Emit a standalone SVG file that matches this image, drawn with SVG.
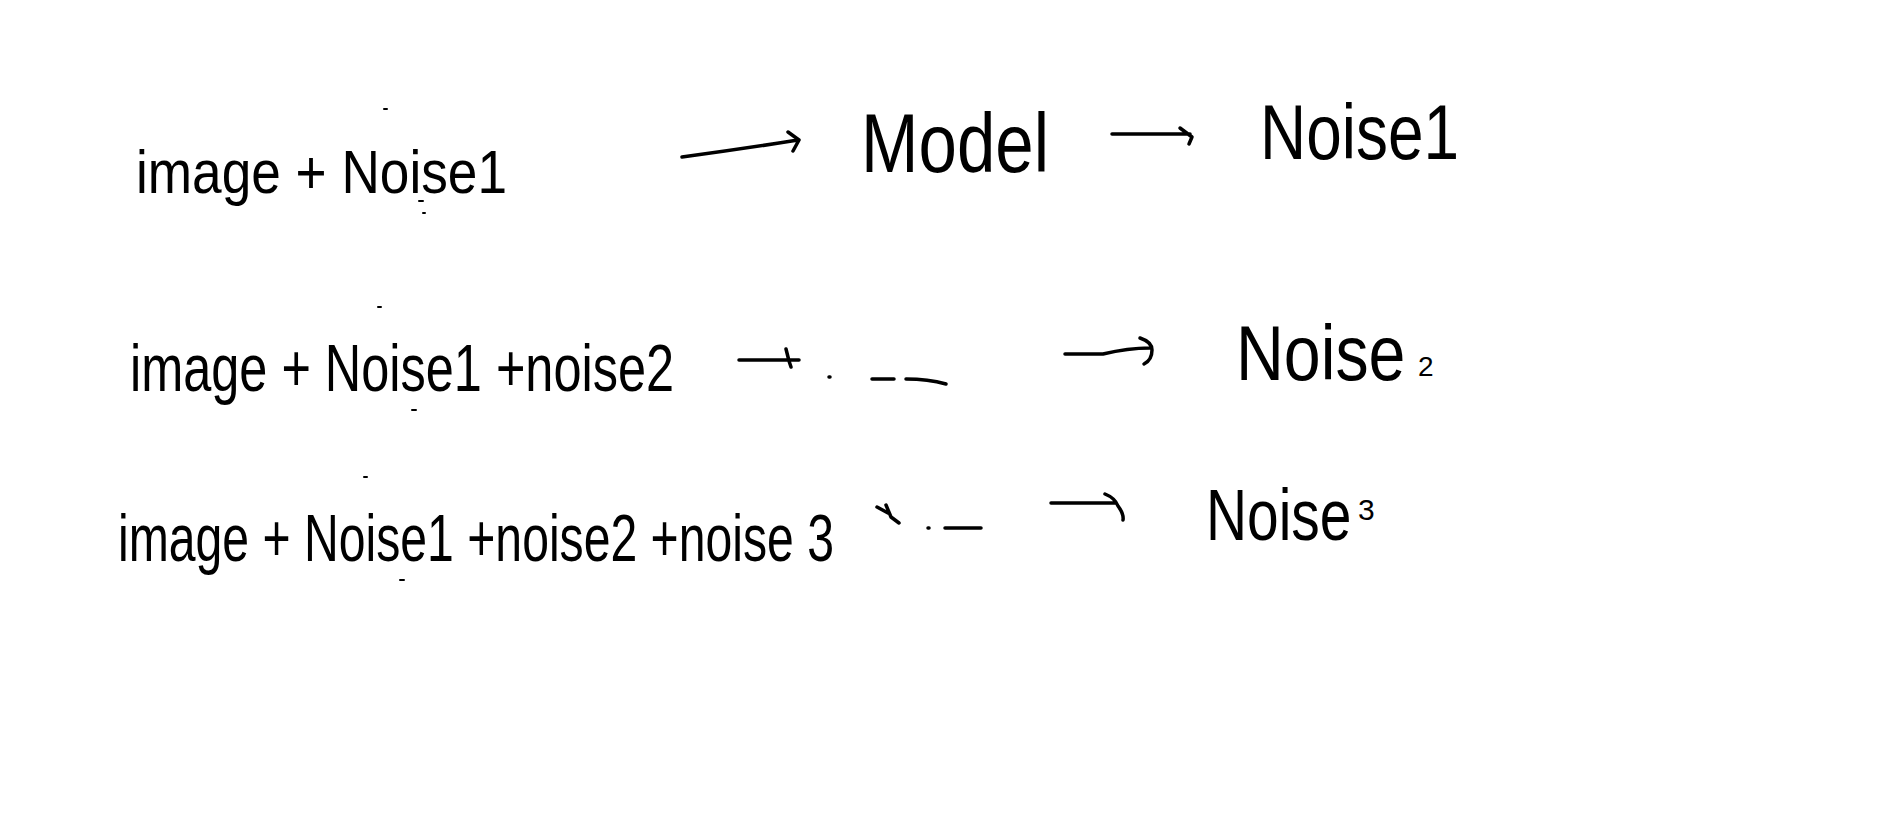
<svg xmlns="http://www.w3.org/2000/svg" width="1894" height="833" viewBox="0 0 1894 833">
<style>
.t{font-family:"Liberation Sans","DejaVu Sans",sans-serif;fill:#000;font-weight:normal}
.s{fill:none;stroke:#000;stroke-width:3.5;stroke-linecap:round;stroke-linejoin:round}
.d{fill:none;stroke:#000;stroke-width:2;stroke-linecap:round}
</style>
<rect width="1894" height="833" fill="#fff"/>
<g id="row1-input"><text class="t" x="136" y="193" font-size="62" textLength="371" lengthAdjust="spacingAndGlyphs">image + Noise1</text>
<path class="d" d="M384 109h3M419 201h4M423 213h2"/></g>
<g id="row1-model"><text class="t" x="861" y="172" font-size="84" textLength="188" lengthAdjust="spacingAndGlyphs">Model</text></g>
<g id="row1-output"><text class="t" x="1260" y="159" font-size="78" textLength="199" lengthAdjust="spacingAndGlyphs">Noise1</text></g>
<g id="row2-input"><text class="t" x="130" y="391" font-size="66" textLength="544" lengthAdjust="spacingAndGlyphs">image + Noise1 +noise2</text>
<path class="d" d="M378 307h3M412 410h4"/></g>
<g id="row2-model"><path class="s" d="M829 377h1M872 379h22M906 379q22 0 40 5"/></g>
<g id="row2-output"><text class="t" transform="translate(1236,380) scale(0.85,1)" font-size="78">Noise</text><text class="t" x="1418" y="376" font-size="28">2</text></g>
<g id="row3-input"><text class="t" x="118" y="561" font-size="66" textLength="716" lengthAdjust="spacingAndGlyphs">image + Noise1 +noise2 +noise 3</text>
<path class="d" d="M364 477h3M400 580h4"/></g>
<g id="row3-model"><path class="s" d="M928 528h1M945 528h36"/></g>
<g id="row3-output"><text class="t" transform="translate(1206,540) scale(0.79,1)" font-size="72">Noise</text><text class="t" x="1358" y="520" font-size="30">3</text></g>
<g id="connectors">
<path class="s" d="M682 157q60-8 116-17M788 132l11 8l-6 11"/>
<path class="s" d="M1112 134h78M1180 128l12 9l-3 7"/>
<path class="s" d="M739 360h60M786 349l3 12l2 6"/>
<path class="s" d="M1065 354h38q25-6 47-6M1140 338q12 4 12 12q0 10-8 14"/>
<path class="s" d="M877 507l11 6M886 505l5 12l8 6"/>
<path class="s" d="M1051 503h64M1105 494q10 4 13 12q6 8 5 14"/>
</g>
</svg>
